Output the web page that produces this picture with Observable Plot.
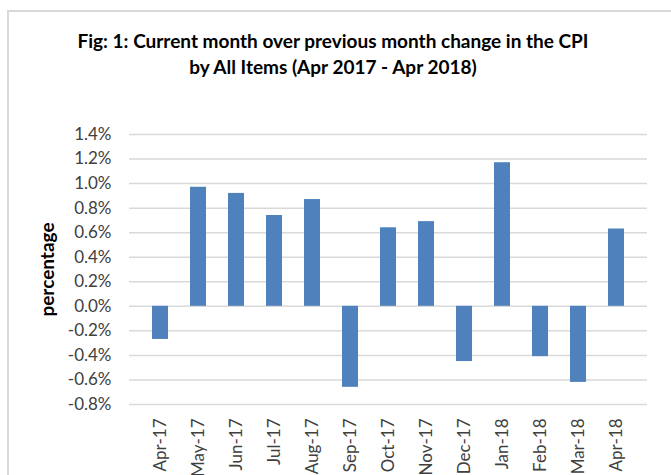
<!DOCTYPE html>
<html>
<head>
<meta charset="utf-8">
<script src="https://cdn.jsdelivr.net/npm/d3@7"></script>
<script src="https://cdn.jsdelivr.net/npm/@observablehq/plot@0.6"></script>
<style>
  body { margin: 0; background: #fff; font-family: Lato, "Open Sans", sans-serif; overflow: hidden; }
  #frame { position: absolute; left: 7px; top: 10px; width: 700px; height: 480px; border: 2px solid #d9d9d9; border-bottom: none; border-right: none; box-sizing: border-box; }
  #title { position: absolute; left: 0; top: 28px; width: 666px; text-align: center; font-weight: bold; font-size: 19px; line-height: 26px; color: #000; }
  #chart { position: absolute; left: 0; top: 100px; }
</style>
</head>
<body>
<div id="frame"></div>
<div id="title">Fig: 1: Current month over previous month change in the CPI<br>by All Items (Apr 2017 - Apr 2018)</div>
<div id="chart"></div>
<script>
const months = ["Apr-17","May-17","Jun-17","Jul-17","Aug-17","Sep-17","Oct-17","Nov-17","Dec-17","Jan-18","Feb-18","Mar-18","Apr-18"];
const changes = [-0.27, 0.97, 0.92, 0.74, 0.87, -0.66, 0.64, 0.69, -0.45, 1.17, -0.41, -0.62, 0.63];
const yTicks = [-0.8,-0.6,-0.4,-0.2,0,0.2,0.4,0.6,0.8,1.0,1.2,1.4];

const data = months.map((m, i) => ({month: m, value: changes[i]}));

const plot = Plot.plot({
  width: 671,
  height: 375,
  marginTop: 34,
  marginBottom: 71,
  marginLeft: 129,
  marginRight: 24,
  style: { fontFamily: "Lato, 'Open Sans', sans-serif", fontSize: "17px", color: "#404040", background: "transparent", overflow: "visible" },
  x: { domain: months, padding: 0.57, label: null, tickSize: 0, tickPadding: 14, tickRotate: -90 },
  y: { domain: [-0.8, 1.4], ticks: yTicks, tickFormat: d => d.toFixed(1) + "%", tickSize: 0, tickPadding: 18, label: null },
  marks: [
    Plot.ruleY(yTicks, { stroke: "#d9d9d9", strokeWidth: 1.5 }),
    Plot.barY(data, { x: "month", y: "value", fill: "#4f81bd" }),
    Plot.axisX({ tickSize: 0, tickPadding: 14, tickRotate: -90, fontSize: 17, label: null }),
    Plot.axisY({ ticks: yTicks, tickFormat: d => d.toFixed(1) + "%", tickSize: 0, tickPadding: 18, fontSize: 17, label: null }),
    Plot.text(["percentage"], { frameAnchor: "left", textAnchor: "middle", dx: -82, rotate: -90, fontWeight: "bold", fontSize: 19, fill: "#000" })
  ]
});
document.getElementById("chart").appendChild(plot);
</script>
</body>
</html>
